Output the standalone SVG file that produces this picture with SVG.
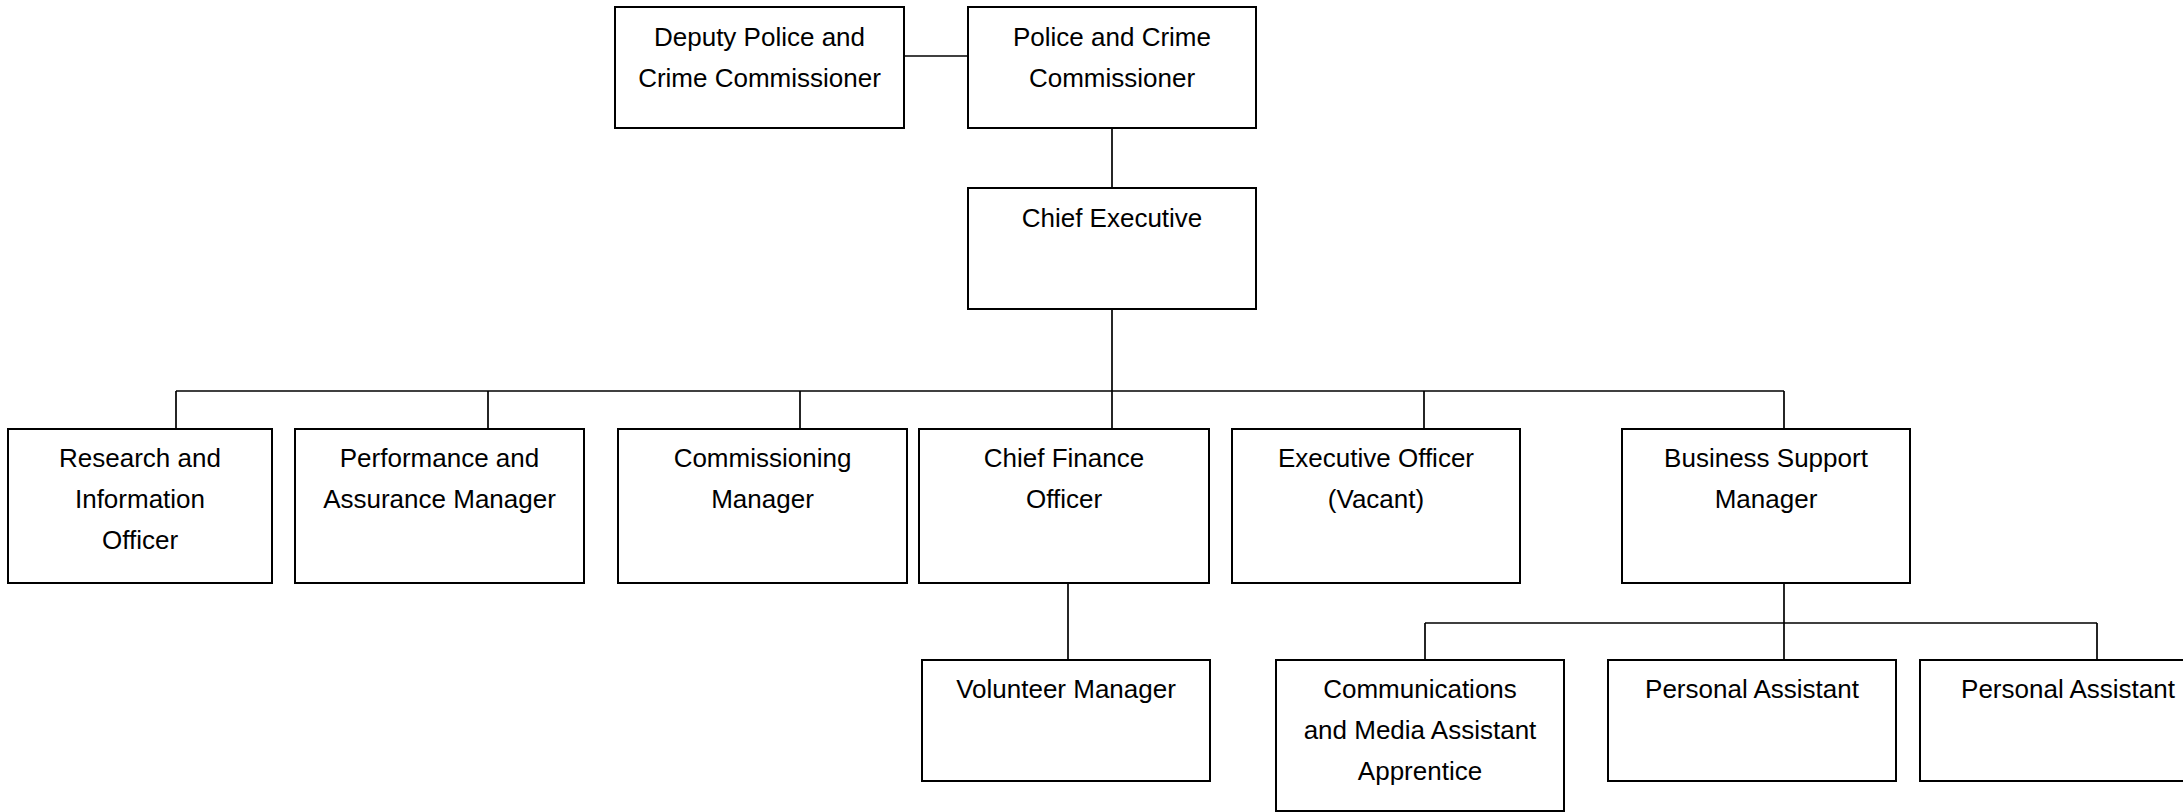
<svg xmlns="http://www.w3.org/2000/svg" width="2183" height="812" viewBox="0 0 2183 812">
<style>
.box{fill:#fff;stroke:#000;stroke-width:2}
.ln{fill:none;stroke:#000;stroke-width:1.7}
text{font-family:"Liberation Sans",Arial,sans-serif;font-size:26px;fill:#000;text-anchor:middle}
</style>
<rect width="2183" height="812" fill="#fff"/>
<g id="connectors">
<path class="ln" d="M904 56H968"/>
<path class="ln" d="M1112 128V188"/>
<path class="ln" d="M1112 309V429"/>
<path class="ln" d="M176 391H1784"/>
<path class="ln" d="M176 391V429M488 391V429M800 391V429M1424 391V429M1784 391V429"/>
<path class="ln" d="M1068 583V660"/>
<path class="ln" d="M1784 583V660"/>
<path class="ln" d="M1425 623H2097M1425 623V660M2097 623V660"/>
</g>
<g id="deputy"><rect class="box" x="615" y="7" width="289" height="121"/><text x="759.5" y="46">Deputy Police and</text><text x="759.5" y="87">Crime Commissioner</text></g>
<g id="pcc"><rect class="box" x="968" y="7" width="288" height="121"/><text x="1112" y="46">Police and Crime</text><text x="1112" y="87">Commissioner</text></g>
<g id="ce"><rect class="box" x="968" y="188" width="288" height="121"/><text x="1112" y="227">Chief Executive</text></g>
<g id="research"><rect class="box" x="8" y="429" width="264" height="154"/><text x="140" y="467">Research and</text><text x="140" y="508">Information</text><text x="140" y="549">Officer</text></g>
<g id="performance"><rect class="box" x="295" y="429" width="289" height="154"/><text x="439.5" y="467">Performance and</text><text x="439.5" y="508">Assurance Manager</text></g>
<g id="commissioning"><rect class="box" x="618" y="429" width="289" height="154"/><text x="762.5" y="467">Commissioning</text><text x="762.5" y="508">Manager</text></g>
<g id="cfo"><rect class="box" x="919" y="429" width="290" height="154"/><text x="1064" y="467">Chief Finance</text><text x="1064" y="508">Officer</text></g>
<g id="exec"><rect class="box" x="1232" y="429" width="288" height="154"/><text x="1376" y="467">Executive Officer</text><text x="1376" y="508">(Vacant)</text></g>
<g id="bsm"><rect class="box" x="1622" y="429" width="288" height="154"/><text x="1766" y="467">Business Support</text><text x="1766" y="508">Manager</text></g>
<g id="volunteer"><rect class="box" x="922" y="660" width="288" height="121"/><text x="1066" y="698">Volunteer Manager</text></g>
<g id="comms"><rect class="box" x="1276" y="660" width="288" height="151"/><text x="1420" y="698">Communications</text><text x="1420" y="739">and Media Assistant</text><text x="1420" y="780">Apprentice</text></g>
<g id="pa1"><rect class="box" x="1608" y="660" width="288" height="121"/><text x="1752" y="698">Personal Assistant</text></g>
<g id="pa2"><rect class="box" x="1920" y="660" width="288" height="121"/><text x="2068" y="698">Personal Assistant</text></g>
</svg>
